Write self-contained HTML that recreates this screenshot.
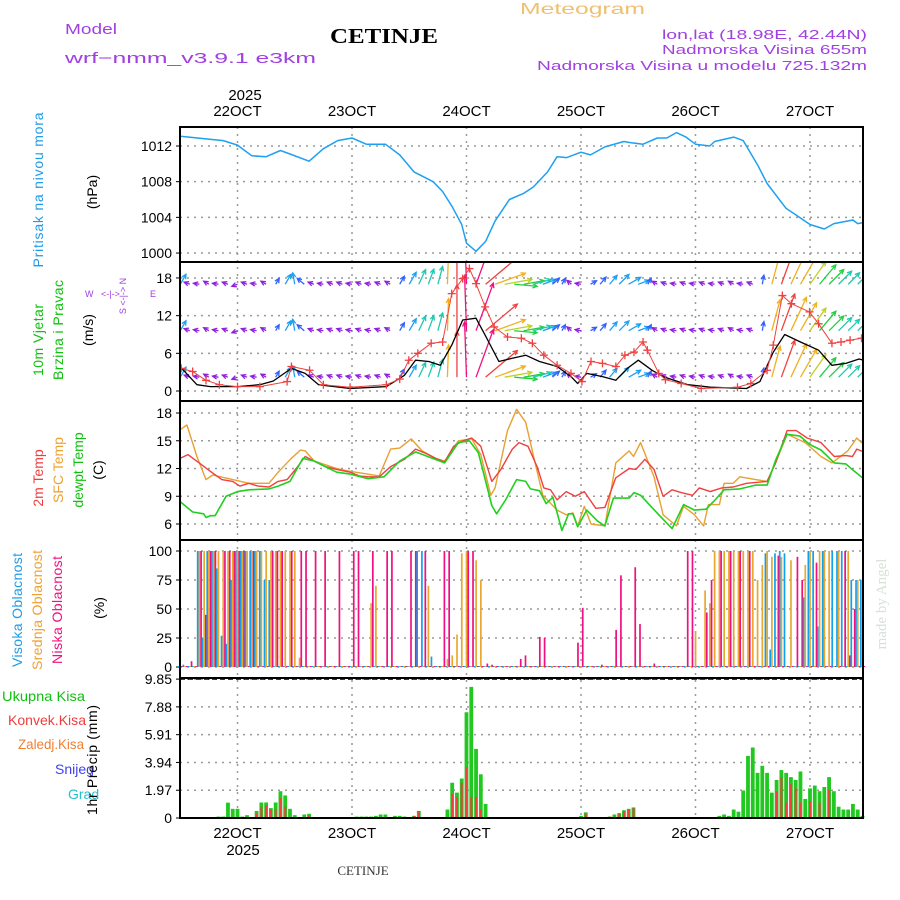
<!DOCTYPE html>
<html><head><meta charset="utf-8"><title>Meteogram CETINJE</title>
<style>
html,body{margin:0;padding:0;background:#fff;}
svg{display:block;font-family:"Liberation Sans",sans-serif;}
</style></head>
<body>
<svg id="chart" width="900" height="900" viewBox="0 0 900 900" xmlns="http://www.w3.org/2000/svg">
<g>
<text x="65" y="34" fill="#a040e0" font-size="15" textLength="52" lengthAdjust="spacingAndGlyphs">Model</text>
<text x="65" y="63" fill="#a040e0" font-size="15" textLength="251" lengthAdjust="spacingAndGlyphs">wrf−nmm_v3.9.1  e3km</text>
<text x="330" y="43" fill="#000" font-size="21" font-weight="bold" font-family="Liberation Serif,serif" textLength="108" lengthAdjust="spacingAndGlyphs">CETINJE</text>
<text x="520" y="14" fill="#f0c070" font-size="16" textLength="125" lengthAdjust="spacingAndGlyphs">Meteogram</text>
<text x="662" y="39" fill="#a040e0" font-size="13" textLength="205" lengthAdjust="spacingAndGlyphs">lon,lat (18.98E, 42.44N)</text>
<text x="662" y="54" fill="#a040e0" font-size="13" textLength="205" lengthAdjust="spacingAndGlyphs">Nadmorska Visina 655m</text>
<text x="537" y="70" fill="#a040e0" font-size="13" textLength="330" lengthAdjust="spacingAndGlyphs">Nadmorska Visina u modelu 725.132m</text>
</g>
<g>
<text transform="translate(43,190) rotate(-90)" fill="#1e9be9" font-size="14" text-anchor="middle" textLength="155" lengthAdjust="spacing">Pritisak na nivou mora</text>
<text transform="translate(97,192) rotate(-90)" fill="#000" font-size="14" text-anchor="middle">(hPa)</text>
<text transform="translate(43,340) rotate(-90)" fill="#10c010" font-size="14" text-anchor="middle" textLength="72" lengthAdjust="spacing">10m Vjetar</text>
<text transform="translate(63,330) rotate(-90)" fill="#10c010" font-size="14" text-anchor="middle" textLength="100" lengthAdjust="spacing">Brzina i Pravac</text>
<text transform="translate(93,330) rotate(-90)" fill="#000" font-size="14" text-anchor="middle">(m/s)</text>
<text transform="translate(126,296) rotate(-90)" fill="#a040e0" font-size="9" text-anchor="middle">S &lt;-|-&gt; N</text>
<text x="85" y="297" fill="#a040e0" font-size="9">W</text>
<text x="101" y="297" fill="#a040e0" font-size="9">&lt;-|-&gt;</text>
<text x="150" y="297" fill="#a040e0" font-size="9">E</text>
<text transform="translate(43,478) rotate(-90)" fill="#f03c3c" font-size="14" text-anchor="middle">2m Temp</text>
<text transform="translate(63,470) rotate(-90)" fill="#f0a030" font-size="14" text-anchor="middle">SFC Temp</text>
<text transform="translate(83,470) rotate(-90)" fill="#10c010" font-size="14" text-anchor="middle">dewpt Temp</text>
<text transform="translate(103,470) rotate(-90)" fill="#000" font-size="14" text-anchor="middle">(C)</text>
<text transform="translate(22,610) rotate(-90)" fill="#1e9be9" font-size="14" text-anchor="middle" textLength="114" lengthAdjust="spacing">Visoka Oblacnost</text>
<text transform="translate(42,610) rotate(-90)" fill="#f0a030" font-size="14" text-anchor="middle" textLength="120" lengthAdjust="spacing">Srednja Oblacnost</text>
<text transform="translate(62,610) rotate(-90)" fill="#f01080" font-size="14" text-anchor="middle" textLength="108" lengthAdjust="spacing">Niska Oblacnost</text>
<text transform="translate(104,608) rotate(-90)" fill="#000" font-size="14" text-anchor="middle">(%)</text>
<text x="2" y="701" fill="#10c010" font-size="14" textLength="83" lengthAdjust="spacingAndGlyphs">Ukupna Kisa</text>
<text x="8" y="725" fill="#f03c3c" font-size="14" textLength="78" lengthAdjust="spacingAndGlyphs">Konvek.Kisa</text>
<text x="18" y="749" fill="#f08030" font-size="14" textLength="66" lengthAdjust="spacingAndGlyphs">Zaledj.Kisa</text>
<text x="55" y="774" fill="#4040f0" font-size="14">Snijeg</text>
<text x="68" y="799" fill="#20c0d0" font-size="14">Grad</text>
<text transform="translate(97,760) rotate(-90)" fill="#000" font-size="14" text-anchor="middle" textLength="110" lengthAdjust="spacing">1hr Precip (mm)</text>
<text transform="translate(886,604) rotate(-90)" fill="#d8e0d8" font-size="15" font-family="Liberation Serif,serif" text-anchor="middle">made by Angel</text>
<text x="363" y="875" fill="#333" font-size="13" font-family="Liberation Serif,serif" text-anchor="middle">CETINJE</text>
<text x="245" y="100" fill="#000" font-size="15" text-anchor="middle">2025</text>
<text x="243" y="855" fill="#000" font-size="15" text-anchor="middle">2025</text>
</g>
<g id="grid"></g>
<g id="marks"></g>
<g id="frames"></g>
</svg>
<script>
// ---------- data ----------
const dayLabels = ["22OCT","23OCT","24OCT","25OCT","26OCT","27OCT"];
const pressTicks = [1000,1004,1008,1012];
const windTicks = [0,6,12,18];
const tempTicks = [6,9,12,15,18];
const cloudTicks = [0,25,50,75,100];
const precipTicks = [0,1.97,3.94,5.91,7.88,9.85];

const presHours = [-12,-3,0,3,6,9,11,15,18,21,24,27,31,34,37,41,43,45,47,48,50,52,54,57,60,62,65,67,69,72,74,77,81,82,85,88,90,92,94,96,99,100,104,106,109,111,115,117,120,123,125,129,130,132];
const presVals = [1013.1,1012.6,1012.1,1010.9,1010.8,1011.5,1011.1,1010.3,1011.7,1012.6,1012.9,1012.2,1012.2,1011,1009.1,1008,1006.9,1005.2,1003.2,1001.1,1000.2,1001.3,1003.6,1006,1006.7,1007.4,1009.1,1010.8,1010.7,1011.3,1011,1011.9,1012.5,1012.4,1012.2,1012.9,1012.9,1013.5,1013,1012.2,1012,1012.5,1013,1012.6,1009.9,1007.8,1005,1004.3,1003.2,1002.7,1003.3,1003.7,1003.3,1003.5];

const t2Hours = [-12,-10.4,-7.5,-5.7,-3.3,-1,0.5,2.4,4.3,6.6,8.5,10.4,12.3,14.2,16.1,18.4,20.8,23.6,25.5,27.4,29.7,32.1,35,37.3,39.2,41.5,43.4,45.3,47.2,49.1,51,53.3,55.2,57.6,59,60.9,62.8,64.2,65.6,67,68.9,70.8,72.7,75.1,77,79.3,82.1,83.5,85.4,87.3,89.2,91.1,93,95.4,96.8,99.1,101.5,103.9,106.7,111,112.8,115.2,117.1,119.4,122.3,125.1,127.5,128.9,129.8,131.7];
const t2Vals = [13.1,13.5,12.4,11.7,10.8,10.6,10.1,10.4,10.1,10,10.6,10.8,12,13.3,12.8,12.2,11.9,11.6,11.2,11.1,11.1,12.2,13,14.1,13.7,13.1,12.7,14.4,15,15.3,14.4,10.6,11.9,14.1,14.8,14.4,12.2,9.9,9.7,8.6,9.5,9,9.5,7.7,7.8,11,12,11.9,13,11.9,9,9.7,9.4,9.1,9.9,9.5,9.9,10,10.4,10.6,12.6,16.1,16.1,15.3,14.8,13.3,13.4,13.3,14.1,13.7];

const sfcHours = [-12,-10.6,-8.5,-6.6,-5.2,-1,2.4,6.6,8.5,11.3,13.2,14.2,16.1,20.8,23.6,29.7,32.1,34,36.4,38.7,41.5,43.4,46.3,49.1,51,53.1,54,56.6,58.5,60.4,62.3,64,67,68.9,70.3,71.3,72.7,74.1,77,79.3,82.1,83,84.5,87.3,89.2,92,93.5,95.8,97.7,98.7,101,102,103.9,105.3,108.6,111,112.8,115.2,119,122.3,124.6,127.9,129.8,130.8,132];
const sfcVals = [16.2,16.7,13.3,10.8,11.3,10.8,10.4,10.4,11.6,13.1,14,13.9,12.8,12,11.7,11.2,14.1,14.2,15.2,13.9,13.1,12.8,15,15.2,13.5,9.1,9.9,16.1,18.4,17,12.8,9.1,7.5,7,7.2,5.8,7.9,6,5.8,12.6,13.9,13.3,14.8,11.1,7,5.8,7.9,7,5.8,8.1,8.1,10.4,10.4,11.1,10.8,10.6,12.6,15.7,14.8,13.3,12.6,13.9,15.3,14.8,16.5];

const dewHours = [-12,-9.4,-7.1,-6.6,-5.7,-4.7,-2.4,0,2.4,6.6,8.5,11,13.7,16.1,18.4,20.8,23.6,27.4,30.7,34,37.3,43.4,46.3,48.6,50.5,53.3,54.3,56.2,58.5,60.4,61.4,63.3,64.7,66.1,68,69.4,70.3,71.3,73.2,75.5,77,78.8,82.1,83.1,84.5,88.3,91.1,93.5,95.8,98.2,100.1,102,105.3,108.6,111,112.8,115.2,117.9,119.9,122.3,125.1,127.5,129.3,131.7];
const dewVals = [8.4,7.3,7.1,6.7,6.9,6.9,9,9.5,9.7,9.8,10.1,10.6,13.1,12.8,12.2,11.6,11.4,10.9,11.1,12.8,13.8,12.6,14.8,15,13.7,8,7.1,8.6,10.8,10.6,9.8,9.6,8.2,8.9,5.3,7.1,7.1,5.7,7.5,6.3,5.8,8.8,8.8,9.4,9.1,7,5.5,8.1,7.5,7.6,8.6,9.7,9.8,10.2,10.2,12.9,15.7,15.5,14.6,14,12.6,12.5,11.7,10.7];

const spdHours = [-11.8,-8.5,-5.7,0,4.7,7.5,11.3,14.2,17,23.6,31.2,35,37.3,40.1,42.5,44.9,47.2,50,51.9,54.8,57.6,60.4,63.3,67,69.9,71.3,73.2,76.5,79.3,81.7,84,86.9,89.2,91.5,94.4,99.1,106.7,109.5,112.3,114.7,118,121.8,124.6,127.5,130.3,132.2];
const spdVals = [3.7,1,0.7,0.7,1,1.6,3.6,2.8,1,0.4,0.7,2.5,4.9,4.7,4.1,7.3,11.3,11.6,8.9,4.7,5.2,5.7,4.7,3.9,2.3,1.2,2.8,2.3,1.7,3.6,4.9,3.3,2.3,1.7,1,0.6,0.4,1.5,6.2,9,7.8,6.5,4.1,4.4,5.1,4.7];

const gustHours = [-11.8,-9.4,-6.6,-3.8,0,4.7,10.4,11.3,15.1,18,23.6,31.2,34,35.9,37.8,40.6,43,44.9,47.2,48.6,50,51.9,53.8,56.6,59.5,61.8,64.2,67,69.9,72.2,74.1,76.5,79.3,81.2,83.1,85,85.9,88.3,89.7,93,97.2,104.8,107.6,111,112.3,114.2,116.1,119.9,121.8,124.6,126.5,128.4,130.8,132];
const gustVals = [3.6,3.1,1.7,1,0.7,0.7,1.5,3.9,3.3,1,0.6,1,1.9,4.9,6,7.6,7.8,15.5,17.9,19.5,17.1,13.4,10.2,8.6,8.4,7.6,5.7,4.1,2.8,1.5,4.7,4.4,3.9,5.7,6.2,7.8,6.5,2.8,1.8,1.2,0.4,0.6,1.2,3.3,7.3,15.2,13.9,12.6,10.7,7.6,7.8,8.1,8.4,6.8];

const arrowHours = [-12,-10,-8,-6,-4,-2,0,2,4,6,8,10,12,14,16,18,20,22,24,26,28,30,32,34,36,38,40,42,44,46,48,50,52,54,56,58,60,62,64,66,68,70,72,74,76,78,80,82,84,86,88,90,92,94,96,98,100,102,104,106,108,110,112,114,116,118,120,122,124,126,128,130];
const arrowSpeed = [5,2,1.5,1.5,1.5,1.5,1,1.5,1.5,2,3,5,5,4,2,1.5,1.5,1.5,1.5,1.5,1.5,1.5,2,4,6,7,7,8,14,20,24,22,18,14,12,10,9,8,6,4,3,2.5,2,3,4,5,6,6,5,3,2,1.5,1.5,1.5,1.5,1.5,1.5,1.5,2,1.5,1.5,4,14,17,16,14,12,11,9,8,7,7];
const arrowAngle = [60,160,170,150,170,160,200,160,170,150,60,60,100,140,160,170,160,160,170,160,170,160,150,60,60,65,70,75,88,90,92,70,40,20,10,-5,10,15,20,40,60,140,170,30,50,50,45,30,20,60,150,160,170,160,170,160,170,160,150,170,160,80,75,70,65,60,55,50,45,45,45,45];
const arrowRows = [17,9.6,2.2];

const cloudHours = [-12,-11,-10,-9,-8,-7,-6,-5,-4,-3,-2,-1,0,1,2,3,4,5,6,7,8,9,10,11,12,13,14,15,16,17,18,19,20,21,22,23,24,25,26,27,28,29,30,31,32,33,34,35,36,37,38,39,40,41,42,43,44,45,46,47,48,49,50,51,52,53,54,55,56,57,58,59,60,61,62,63,64,65,66,67,68,69,70,71,72,73,74,75,76,77,78,79,80,81,82,83,84,85,86,87,88,89,90,91,92,93,94,95,96,97,98,99,100,101,102,103,104,105,106,107,108,109,110,111,112,113,114,115,116,117,118,119,120,121,122,123,124,125,126,127,128,129,130,131];
const cloudLow = [0,0,5,0,100,45,100,100,0,100,100,100,100,100,0,100,0,0,0,100,100,100,0,100,0,100,100,0,100,0,100,0,0,100,0,0,100,100,0,0,100,0,0,100,100,0,0,0,100,100,0,100,0,0,0,100,100,0,0,0,100,100,0,0,3,2,0,0,0,0,0,7,10,0,0,26,25,0,0,0,0,0,0,21,51,0,0,0,2,0,0,32,79,0,0,86,37,0,0,3,0,0,0,0,0,0,100,100,0,0,47,75,0,100,0,100,0,100,0,100,0,0,0,0,0,96,0,0,0,95,75,0,0,90,0,0,0,0,0,100,10,50,0,0];
const cloudMid = [0,0,0,0,100,100,100,100,100,100,100,100,100,100,100,100,100,100,100,100,100,100,100,100,100,8,0,0,0,0,0,0,0,0,0,0,0,0,0,0,55,70,0,0,0,0,0,0,0,0,0,0,70,0,0,0,7,10,28,98,100,0,92,75,0,0,0,0,0,0,0,0,0,0,0,0,0,0,0,0,0,0,0,0,0,0,0,0,0,0,0,0,0,0,0,0,0,0,0,0,0,0,0,0,0,0,0,0,31,0,66,55,100,100,100,100,100,100,100,100,100,75,88,100,95,0,95,0,92,0,0,88,100,0,100,100,100,0,100,0,100,0,75,0];
const cloudHigh = [0,2,0,0,100,25,100,100,85,27,20,75,100,100,100,100,100,100,75,75,0,0,0,0,0,0,0,0,0,0,0,0,0,0,0,0,0,0,0,0,0,0,0,0,0,0,0,0,0,0,100,100,0,9,0,0,0,0,0,0,0,0,0,0,0,0,0,0,0,0,0,0,0,0,0,0,0,0,0,0,0,0,0,0,0,0,0,0,0,0,0,0,0,0,0,0,0,0,0,0,0,0,0,0,0,0,0,0,0,0,0,0,0,0,0,0,0,0,0,0,0,0,0,98,15,98,100,98,0,0,0,60,100,100,35,100,0,100,100,100,0,75,75,75];

const rainHours = [-5,-4,-3,-2,-1,0,1,2,4,5,6,7,8,9,10,11,12,14,15,25,26,27,28,29,30,31,33,34,35,37,38,44,45,46,47,48,49,50,51,52,72,73,78,79,80,81,82,83,101,102,103,104,105,106,107,108,109,110,111,112,113,114,115,116,117,118,119,120,121,122,123,124,125,126,127,128,129,130,131];
const rainTotal = [0.07,0.1,0.1,1.09,0.65,0.65,0.1,0.2,0.5,1.1,1.1,0.7,1.1,1.9,1.6,0.65,0.2,0.25,0.3,0.1,0.1,0.1,0.1,0.15,0.25,0.25,0.15,0.15,0.1,0.15,0.5,0.6,2.5,1.8,2.8,7.5,9.3,4.9,3.1,1.0,0.15,0.4,0.1,0.25,0.35,0.55,0.65,0.75,0.15,0.25,0.15,0.6,0.45,1.95,4.4,5.0,3.2,3.7,3.2,1.8,2.7,3.4,3.2,2.9,2.7,3.3,1.35,2.1,2.3,1.9,2.2,2.9,1.9,0.8,0.6,0.6,1.0,0.6,0.15];
const rainConv = [0,0,0,0,0,0,0,0,0.3,0.8,0.9,0.6,0.6,1.4,0.8,0,0,0,0.2,0,0,0,0,0,0,0,0,0,0,0.15,0.5,0,1.7,1.5,2.5,3.6,1.5,1.5,0.6,0,0,0.3,0.1,0,0.3,0.5,0.6,0.7,0,0,0,0,0,0,0,0,0,0,0,0,1.9,2.9,1.1,2.4,2.1,1.1,0,1.2,0,1.1,0,2.0,0,0,0,0,0,0,0.1];

// ---------- axes ----------
const L=180, R=863;
const P = {p:[127,262], w:[262,401], t:[401,540], c:[540,678], r:[678,818]};
const X = h => 237.5 + h*114.5/24;
const Yp = v => 146 + (1012-v)*8.92;
const Yw = v => 391 - v*6.28;
const Yt = v => 524 - (v-6)*9.25;
const Yc = v => 667 - v*1.16;
const Yr = v => 818 - v*14.1;

const NS="http://www.w3.org/2000/svg";
const grid=document.getElementById('grid'), marks=document.getElementById('marks'), frames=document.getElementById('frames');
function mk(tag, attrs, parent){const e=document.createElementNS(NS,tag);for(const k in attrs)e.setAttribute(k,attrs[k]);parent.appendChild(e);return e;}

const defs=mk('defs',{},document.getElementById('chart'));
for(const k in P){const cp=mk('clipPath',{id:'clip-'+k},defs);mk('rect',{x:L,y:P[k][0],width:R-L,height:P[k][1]-P[k][0]},cp);}

dayLabels.forEach((d,i)=>{
  const x=X(i*24);
  const gl=mk('line',{x1:x,x2:x,y1:127,y2:818,stroke:'#999','stroke-width':1.5,'stroke-dasharray':'2,5'},grid);
  
  
  const t1=mk('text',{x:x,y:116,'font-size':15,'text-anchor':'middle',fill:'#000'},grid);
  t1.textContent=d;
  
  
  const t2=mk('text',{x:x,y:838,'font-size':15,'text-anchor':'middle',fill:'#000'},grid);
  t2.textContent=d;
  
  
});
function yTicks(ticks, fy, fmt, name){
  ticks.forEach(v=>{
    const y=fy(v);
    const ln=mk('line',{x1:L,x2:R,y1:y,y2:y,stroke:'#999','stroke-width':1.5,'stroke-dasharray':'2,5'},grid);
    
    
    mk('line',{x1:L-4,x2:L,y1:y,y2:y,stroke:'#000','stroke-width':1},grid);
    const t=mk('text',{x:L-8,y:y+5,'font-size':14,'text-anchor':'end',fill:'#000'},grid);
    t.textContent=fmt(v);
    
    
  });
}
yTicks(pressTicks,Yp,v=>v,'pressure');
yTicks(windTicks,Yw,v=>v,'wind');
yTicks(tempTicks,Yt,v=>v,'temp');
yTicks(cloudTicks,Yc,v=>v,'cloud');
yTicks(precipTicks,Yr,v=>v===0?'0':v.toFixed(2),'precip');

function line(hs, vs, fy, color, w, clip, name){
  const d=hs.map((h,i)=>(i?'L':'M')+X(h).toFixed(1)+','+fy(vs[i]).toFixed(1)).join('');
  const p=mk('path',{d:d,fill:'none',stroke:color,'stroke-width':w,'stroke-linejoin':'round','clip-path':'url(#clip-'+clip+')'},marks);
  
  
  return p;
}
line(presHours,presVals,Yp,'#1ea0f0',1.5,'p','pressure-line');

function arrowColor(s){
  if(s<3) return '#9020e0';
  if(s<5) return '#3060ff';
  if(s<7) return '#1ea0f0';
  if(s<9) return '#20c8b0';
  if(s<12) return '#20d040';
  if(s<14) return '#c0d020';
  if(s<17) return '#f0b020';
  if(s<21) return '#f04040';
  return '#f01080';
}
const wg=mk('g',{'clip-path':'url(#clip-w)'},marks);


arrowRows.forEach(rv=>{
  const y0=Yw(rv);
  arrowHours.forEach((h,i)=>{
    const s=arrowSpeed[i], a=arrowAngle[i]*Math.PI/180;
    const len=Math.max(6,s*2.3);
    const x0=X(h), x1=x0+len*Math.cos(a), y1=y0-len*Math.sin(a);
    const c=arrowColor(s);
    const g=mk('g',{stroke:c,'stroke-width':1.3,fill:'none'},wg);
    
    
    mk('line',{x1:x0,y1:y0,x2:x1,y2:y1},g);
    const hl=5, b1=a+Math.PI-0.45, b2=a+Math.PI+0.45;
    mk('path',{d:`M${x1+hl*Math.cos(b1)},${y1-hl*Math.sin(b1)}L${x1},${y1}L${x1+hl*Math.cos(b2)},${y1-hl*Math.sin(b2)}`},g);
  });
});
line(spdHours,spdVals,Yw,'#000',1.3,'w','wind-speed-line');
line(gustHours,gustVals,Yw,'#f04040',1,'w','wind-gust-line');
gustHours.forEach((h,i)=>{
  const x=X(h), y=Yw(gustVals[i]);
  const p=mk('path',{d:`M${x-4},${y}L${x+4},${y}M${x},${y-4}L${x},${y+4}`,stroke:'#f04040','stroke-width':1.3,'clip-path':'url(#clip-w)'},marks);
  
  
});

line(sfcHours,sfcVals,Yt,'#e8a030',1.4,'t','sfc-temp-line');
line(t2Hours,t2Vals,Yt,'#f04040',1.4,'t','temp-2m-line');
line(dewHours,dewVals,Yt,'#20d020',1.6,'t','dewpoint-line');

cloudHours.forEach((h,i)=>{
  const x=X(h);
  [[cloudHigh[i],'#10a0f0',-1.7,'high-cloud-bar'],[cloudMid[i],'#e8a830',0,'mid-cloud-bar'],[cloudLow[i],'#f01080',1.7,'low-cloud-bar']].forEach(([v,c,o,n])=>{
    const hgt=Math.max(1,v*1.16);
    const r=mk('rect',{x:x+o-0.8,y:Yc(0)-hgt,width:1.7,height:hgt,fill:c},marks);
    
    
  });
});

rainHours.forEach((h,i)=>{
  const x=X(h);
  const r=mk('rect',{x:x-1.9,y:Yr(rainTotal[i]),width:3.8,height:rainTotal[i]*14.1,fill:'#20c820'},marks);
  
  
  if(rainConv[i]>0){
    const c=mk('rect',{x:x-1,y:Yr(rainConv[i]),width:2,height:rainConv[i]*14.1,fill:'#f04040'},marks);
    
    
  }
});
[Yr(9.85),818].forEach(y=>{
  const d=mk('line',{x1:L,x2:R,y1:y,y2:y,stroke:'#000','stroke-width':1.3,'stroke-dasharray':'5,3'},marks);
  
  
});

for(const k in P){
  const f=mk('rect',{x:L,y:P[k][0],width:R-L,height:P[k][1]-P[k][0],fill:'none',stroke:'#000','stroke-width':2},frames);
  
  
}
</script>
</body></html>
